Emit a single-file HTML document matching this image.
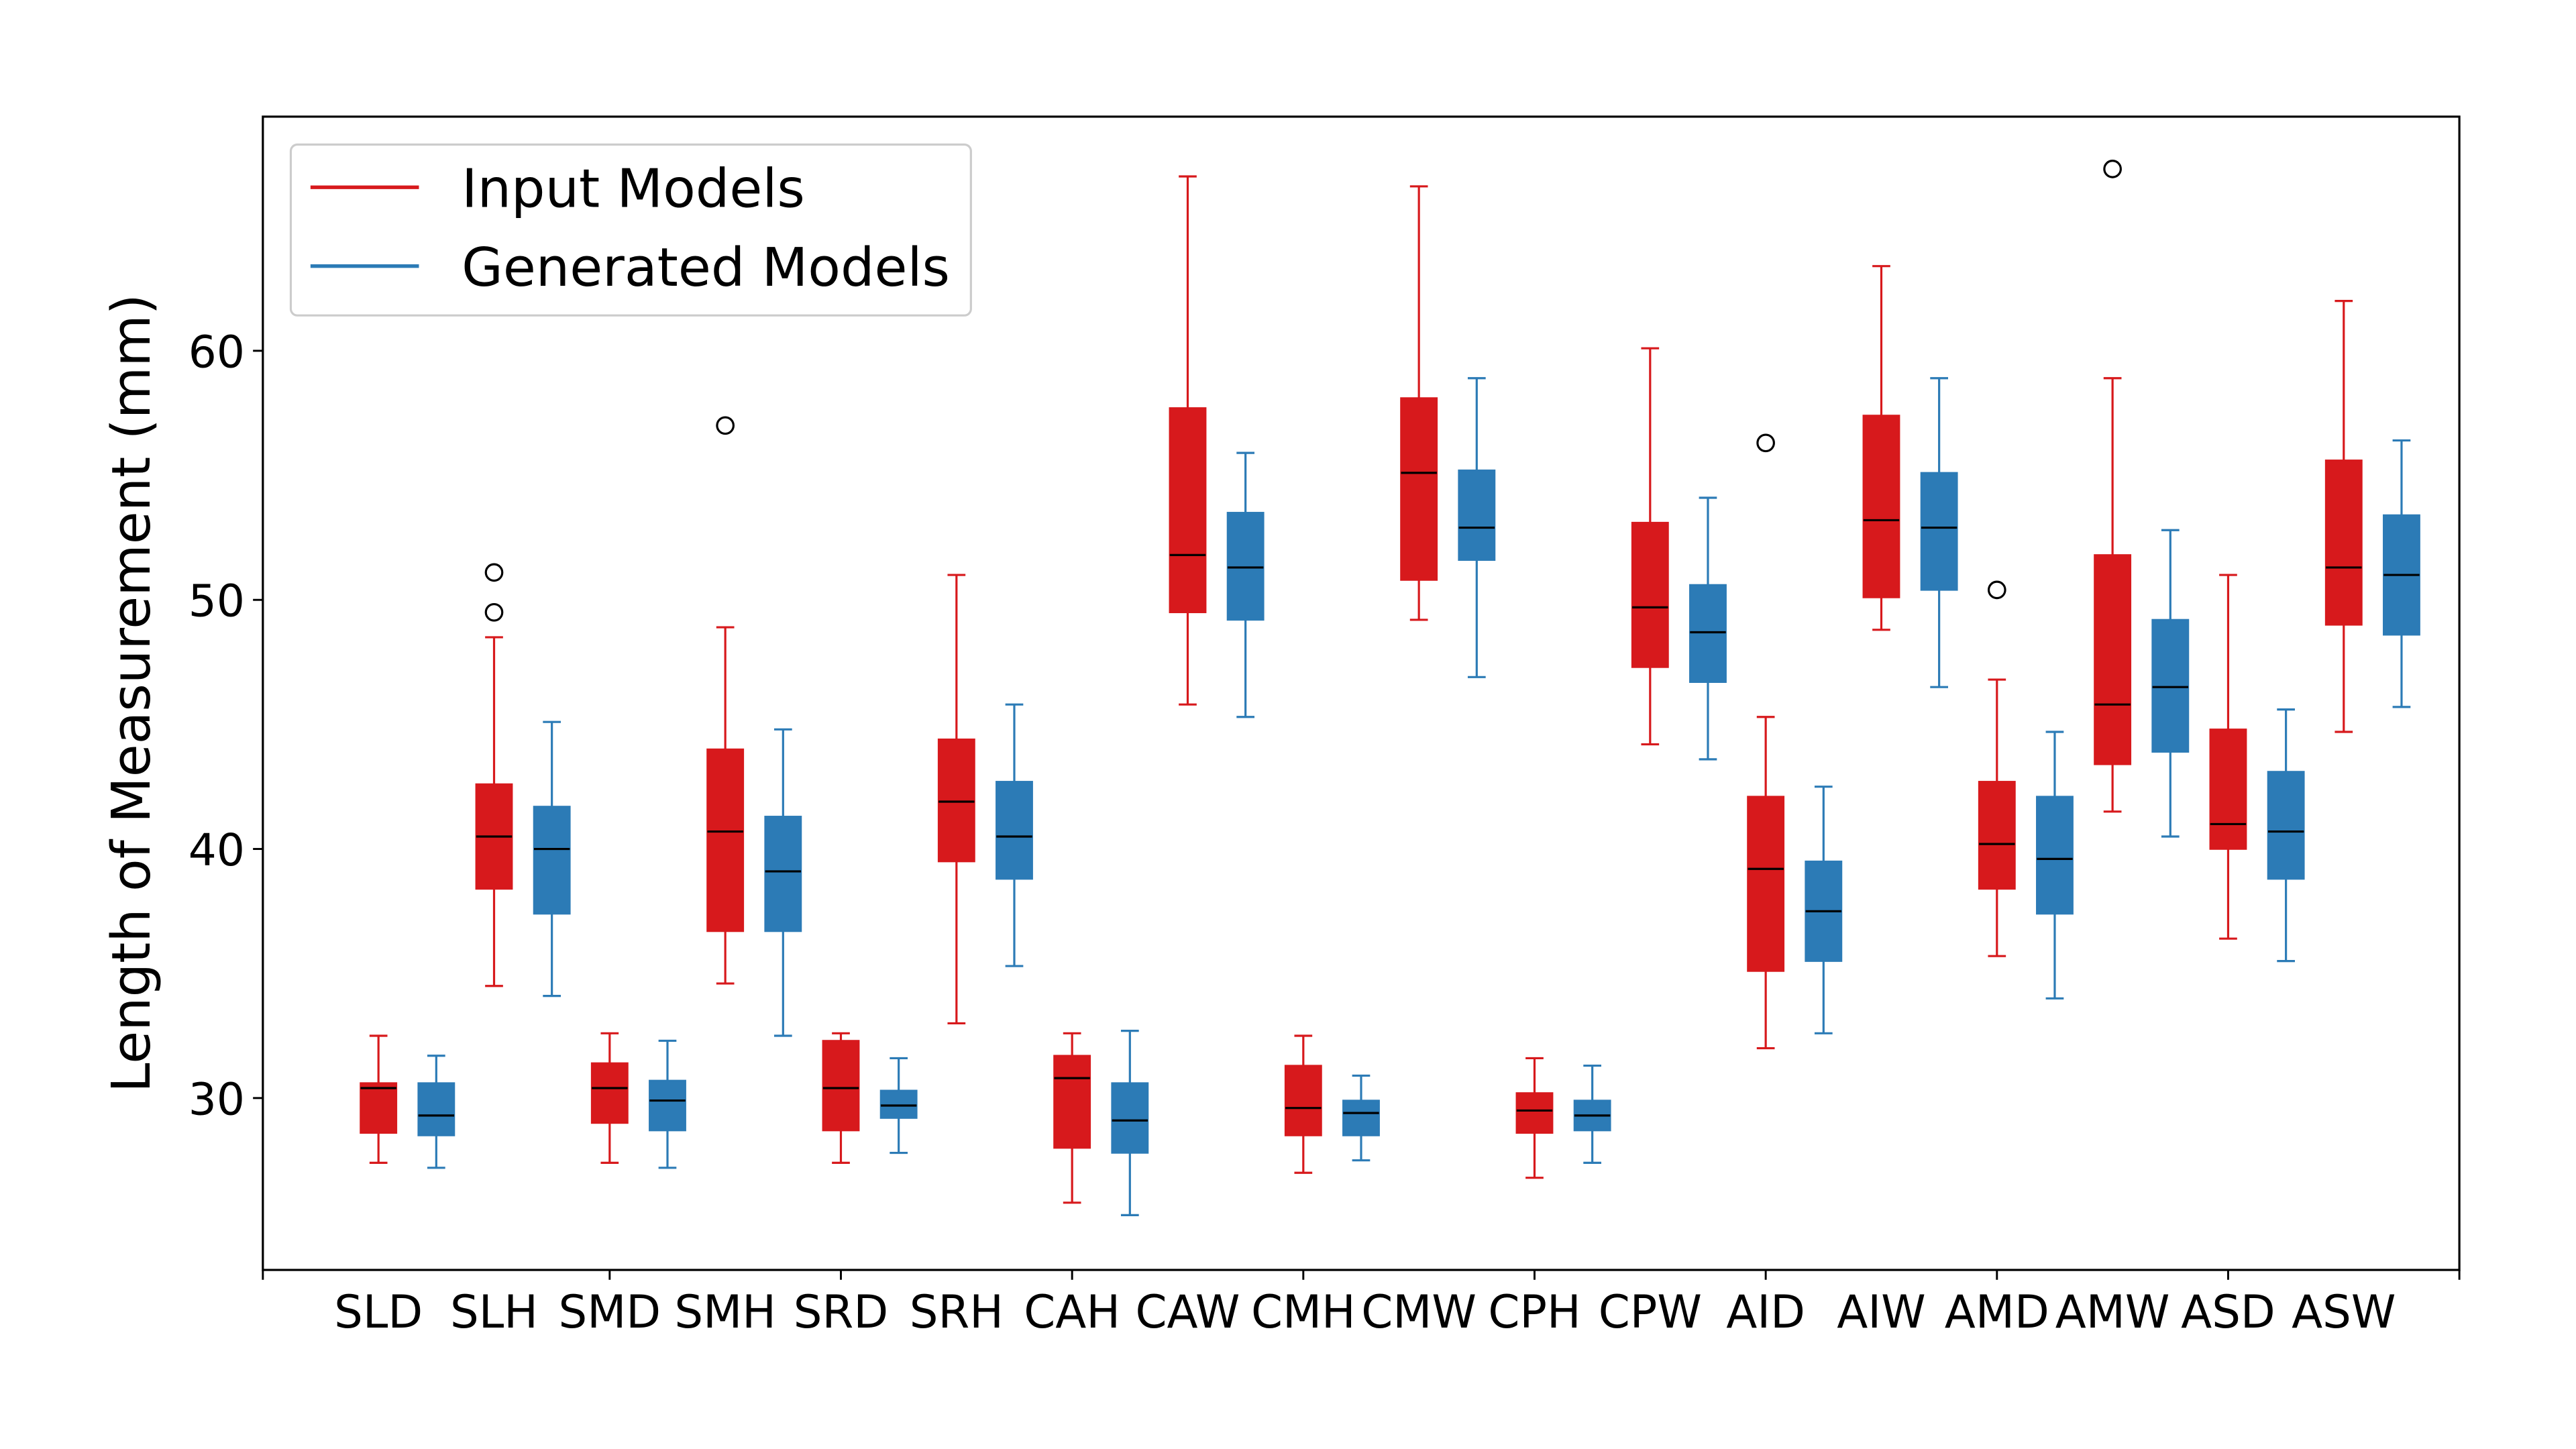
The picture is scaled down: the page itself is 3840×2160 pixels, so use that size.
<!DOCTYPE html>
<html><head><meta charset="utf-8"><style>
html,body{margin:0;padding:0;background:#fff;}
svg{display:block;font-family:"DejaVu Sans","Liberation Sans",sans-serif;}
</style></head><body>
<svg id="chart" width="3840" height="2160" viewBox="0 0 1568 882" xmlns="http://www.w3.org/2000/svg">
<rect width="1568" height="882" fill="#fff"/>
<g id="marks"></g>
<g id="axes"></g>
<g>
<rect x="177" y="88" width="414" height="104" rx="4" fill="#fff" stroke="#ccc" stroke-width="1.3" fill-opacity="0.8"/>
<line x1="189" y1="114" x2="255" y2="114" stroke="#d7191c" stroke-width="2.2"/>
<text x="281" y="126" font-size="32.5">Input Models</text>
<line x1="189" y1="162" x2="255" y2="162" stroke="#2c7bb6" stroke-width="2.2"/>
<text x="281" y="174" font-size="32.5">Generated Models</text>
</g>
</svg>
<script>
const categories=["SLD","SLH","SMD","SMH","SRD","SRH","CAH","CAW","CMH","CMW","CPH","CPW","AID","AIW","AMD","AMW","ASD","ASW"];
// [low whisker, q1, median, q3, high whisker]
const inputStats=[[27.4,28.6,30.4,30.6,32.5],[34.5,38.4,40.5,42.6,48.5],[27.4,29.0,30.4,31.4,32.6],[34.6,36.7,40.7,44.0,48.9],[27.4,28.7,30.4,32.3,32.6],[33.0,39.5,41.9,44.4,51.0],[25.8,28.0,30.8,31.7,32.6],[45.8,49.5,51.8,57.7,67.0],[27.0,28.5,29.6,31.3,32.5],[49.2,50.8,55.1,58.1,66.6],[26.8,28.6,29.5,30.2,31.6],[44.2,47.3,49.7,53.1,60.1],[32.0,35.1,39.2,42.1,45.3],[48.8,50.1,53.2,57.4,63.4],[35.7,38.4,40.2,42.7,46.8],[41.5,43.4,45.8,51.8,58.9],[36.4,40.0,41.0,44.8,51.0],[44.7,49.0,51.3,55.6,62.0]];
const generatedStats=[[27.2,28.5,29.3,30.6,31.7],[34.1,37.4,40.0,41.7,45.1],[27.2,28.7,29.9,30.7,32.3],[32.5,36.7,39.1,41.3,44.8],[27.8,29.2,29.7,30.3,31.6],[35.3,38.8,40.5,42.7,45.8],[25.3,27.8,29.1,30.6,32.7],[45.3,49.2,51.3,53.5,55.9],[27.5,28.5,29.4,29.9,30.9],[46.9,51.6,52.9,55.2,58.9],[27.4,28.7,29.3,29.9,31.3],[43.6,46.7,48.7,50.6,54.1],[32.6,35.5,37.5,39.5,42.5],[46.5,50.4,52.9,55.1,58.9],[34.0,37.4,39.6,42.1,44.7],[40.5,43.9,46.5,49.2,52.8],[35.5,38.8,40.7,43.1,45.6],[45.7,48.6,51.0,53.4,56.4]];
const inputOutliers=[[],[51.1,49.5],[],[57.0],[],[],[],[],[],[],[],[],[56.3],[],[50.4],[67.3],[],[]];
const generatedOutliers=[[],[],[],[],[],[],[],[],[],[],[],[],[],[],[],[],[],[]];
const yTicks=[30,40,50,60];

const L=160,R=1497,T=71,B=773,XMIN=0,XMAX=19,YMIN=23.1,YMAX=69.4;
const xs=v=>L+(v-XMIN)/(XMAX-XMIN)*(R-L);
const ys=v=>B-(v-YMIN)/(YMAX-YMIN)*(B-T);
const NS="http://www.w3.org/2000/svg";
function mk(tag,attrs,parent){const e=document.createElementNS(NS,tag);for(const k in attrs)e.setAttribute(k,attrs[k]);parent.appendChild(e);return e;}
const marks=document.getElementById('marks'),axes=document.getElementById('axes');
const BW=0.31;
function drawBox(pos,s,outs,color,name){
  const g=mk('g',{},marks);
  
  
  const cx=xs(pos),hw=(xs(pos+BW/2)-xs(pos-BW/2))/2,cw=hw/2;
  mk('line',{x1:cx,x2:cx,y1:ys(s[0]),y2:ys(s[1]),stroke:color,'stroke-width':1.3},g);
  mk('line',{x1:cx,x2:cx,y1:ys(s[3]),y2:ys(s[4]),stroke:color,'stroke-width':1.3},g);
  mk('line',{x1:cx-cw,x2:cx+cw,y1:ys(s[0]),y2:ys(s[0]),stroke:color,'stroke-width':1.3},g);
  mk('line',{x1:cx-cw,x2:cx+cw,y1:ys(s[4]),y2:ys(s[4]),stroke:color,'stroke-width':1.3},g);
  mk('rect',{x:cx-hw,y:ys(s[3]),width:2*hw,height:ys(s[1])-ys(s[3]),fill:color,stroke:color,'stroke-width':1},g);
  mk('line',{x1:cx-hw,x2:cx+hw,y1:ys(s[2]),y2:ys(s[2]),stroke:'#000','stroke-width':1.3},g);
  outs.forEach(o=>mk('circle',{cx:cx,cy:ys(o),r:5,fill:'none',stroke:'#000','stroke-width':1.3},g));
}
categories.forEach((c,i)=>{
  drawBox(i+1,inputStats[i],inputOutliers[i],'#d7191c','box-input-'+c.toLowerCase());
  drawBox(i+1.5,generatedStats[i],generatedOutliers[i],'#2c7bb6','box-generated-'+c.toLowerCase());
});
const frame=mk('rect',{x:L,y:T,width:R-L,height:B-T,fill:'none',stroke:'#000','stroke-width':1.3},axes);


yTicks.forEach(t=>{
  mk('line',{x1:L-6,x2:L,y1:ys(t),y2:ys(t),stroke:'#000','stroke-width':1.2},axes);
  const tx=mk('text',{x:L-11,y:ys(t)+10,'font-size':27,'text-anchor':'end'},axes);
  tx.textContent=t;
  
  
});
[0,19].concat([3,5,7,9,11,13,15,17]).forEach(p=>mk('line',{x1:xs(p),x2:xs(p),y1:B,y2:B+6,stroke:'#000','stroke-width':1.2},axes));
categories.forEach((c,i)=>{
  const tx=mk('text',{x:xs(i+1),y:B+35,'font-size':27.5,'text-anchor':'middle'},axes);
  tx.textContent=c;
  
  
});
const yl=mk('text',{x:0,y:0,'font-size':32.5,'text-anchor':'middle',transform:`translate(91,${(T+B)/2}) rotate(-90)`},axes);
yl.textContent='Length of Measurement (mm)';


</script>
</body></html>
